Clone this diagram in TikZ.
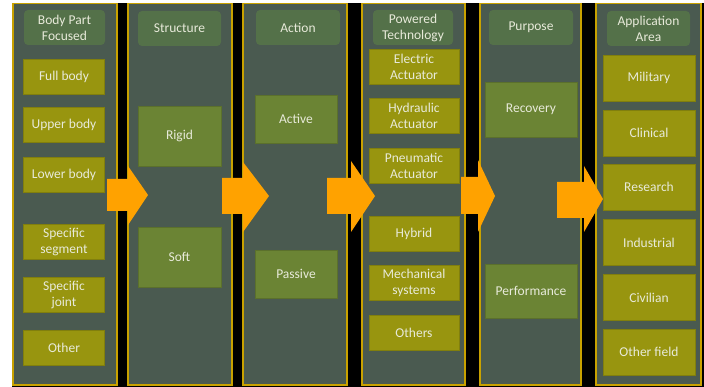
\documentclass[tikz,border=0pt]{standalone}
\usepackage{fontspec}
\setmainfont{Carlito}
\definecolor{colbg}{HTML}{4A5A50}
\definecolor{colgold}{HTML}{C9A200}
\definecolor{headfill}{HTML}{547149}
\definecolor{olive}{HTML}{98950F}
\definecolor{leaf}{HTML}{6B8434}
\definecolor{arrowor}{HTML}{FFA200}
\definecolor{txt}{HTML}{E8EADA}
\tikzset{
  head/.style={fill=headfill, rounded corners=4pt, text=txt, align=center, inner sep=0pt, font=\fontsize{13.5}{16}\selectfont},
  item/.style={fill=olive, draw=olive!85!black, line width=0.5pt, text=txt, align=center, inner sep=0pt, font=\fontsize{13.5}{16}\selectfont},
  kind/.style={fill=leaf, draw=leaf!85!black, line width=0.5pt, text=txt, align=center, inner sep=0pt, font=\fontsize{13.5}{16}\selectfont},
}
\begin{document}
\begin{tikzpicture}[x=1pt,y=-1pt]
	\useasboundingbox (0,0) rectangle (704,387);
	\fill[white] (0,0) rectangle (704,387);
	\fill[black] (12,3) rectangle (704,387);
	% columns
	\foreach \a\b in {13/117,128/232,243/347,362/465,480/581,596/701}{
		\filldraw[fill=colbg, draw=colgold, line width=1.5pt] (\a,3.5) rectangle (\b,385);
	}
	% headers
	\node[head, minimum width=81pt, minimum height=35pt] (hbody) at (64.5,27.5) {Body Part\\Focused};
	\node[head, minimum width=83pt, minimum height=35pt] (hstruct) at (179.5,28.5) {Structure};
	\node[head, minimum width=84pt, minimum height=35pt] (haction) at (298,27.5) {Action};
	\node[head, minimum width=80pt, minimum height=35pt] (htech) at (413,27.5) {Powered\\Technology};
	\node[head, minimum width=84pt, minimum height=35pt] (hpurp) at (531,27.5) {Purpose};
	\node[head, minimum width=83pt, minimum height=35pt] (harea) at (648.5,28.5) {Application\\Area};
	% body part
	\foreach \n\y\t in {full/77/Full body, upper/125/Upper body, lower/174.5/Lower body,
		segment/241.5/{Specific\\segment}, joint/294.5/{Specific\\joint}, other/347.5/Other}{
		\node[item, minimum width=81pt, minimum height=35pt] (\n) at (64,\y) {\t};
	}
	% structure
	\node[kind, minimum width=83pt, minimum height=60pt] (rigid) at (179.5,136) {Rigid};
	\node[kind, minimum width=83pt, minimum height=60pt] (soft) at (179.5,257) {Soft};
	% action
	\node[kind, minimum width=82pt, minimum height=48pt] (active) at (296,119) {Active};
	\node[kind, minimum width=82pt, minimum height=48pt] (passive) at (296,274) {Passive};
	% powered technology
	\foreach \n\y\t in {electric/67/{Electric\\Actuator}, hydraulic/116/{Hydraulic\\Actuator},
		pneumatic/165.5/{Pneumatic\\Actuator}, hybrid/234/Hybrid,
		mechanical/282.5/{Mechanical\\systems}, others/332.5/Others}{
		\node[item, minimum width=90pt, minimum height=35pt] (\n) at (414,\y) {\t};
	}
	% purpose
	\node[kind, minimum width=92pt, minimum height=55pt] (recovery) at (531,109.5) {Recovery};
	\node[kind, minimum width=92pt, minimum height=54pt] (performance) at (531,291) {Performance};
	% application area
	\foreach \n\y\t in {military/78/Military, clinical/133/Clinical, research/187/Research,
		industrial/242.5/Industrial, civilian/297.5/Civilian, otherfield/352/Other field}{
		\node[item, minimum width=92pt, minimum height=46pt] (\n) at (649,\y) {\t};
	}
	% arrows
	\foreach \xa\xh\xt\st\sb\ht\hb\ty in {107/128/148/179/211/166/225/195,
		222/243/269/178/214/162/232/196, 327/351/375/178/214/161/232/196,
		461/478/495/177/214/160/232/196, 557/584/603/182/218/166/232/199}{
		\fill[arrowor] (\xa,\st) -- (\xh,\st) -- (\xh,\ht) -- (\xt,\ty) -- (\xh,\hb) -- (\xh,\sb) -- (\xa,\sb) -- cycle;
	}
\end{tikzpicture}
\end{document}
